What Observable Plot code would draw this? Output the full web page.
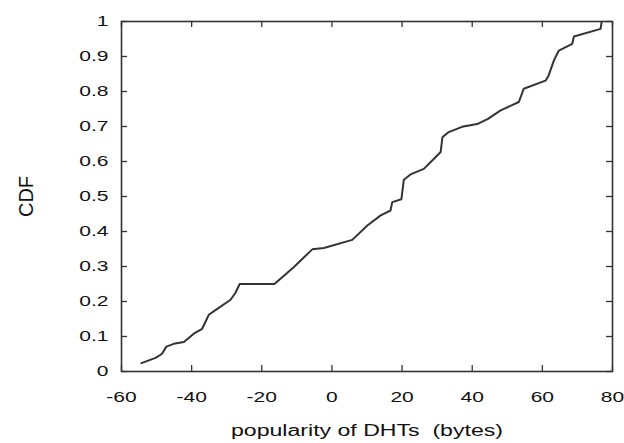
<!DOCTYPE html>
<html>
<head>
<meta charset="utf-8">
<script src="https://cdn.jsdelivr.net/npm/d3@7"></script>
<script src="https://cdn.jsdelivr.net/npm/@observablehq/plot@0.6"></script>
<style>
  html, body { margin: 0; padding: 0; background: #fff; }
  #chart { width: 624px; height: 443px; overflow: hidden; }
</style>
</head>
<body>
<div id="chart"></div>
<script>
const cdfX = [-54.3, -50.3, -48.5, -47.2, -45.1, -42.2, -39.4, -37.0, -35.1, -32.7, -28.9, -27.5, -26.3, -16.4, -10.9, -5.6, -2.3, 5.8, 10.1, 13.9, 16.7, 17.2, 19.8, 20.5, 22.4, 26.2, 29.1, 31.0, 31.5, 33.3, 37.1, 41.4, 44.5, 48.1, 53.3, 54.7, 60.9, 61.8, 63.3, 64.7, 68.5, 69.0, 76.6, 76.9];
const cdfY = [0.024, 0.039, 0.05, 0.071, 0.079, 0.084, 0.108, 0.122, 0.162, 0.179, 0.205, 0.225, 0.25, 0.25, 0.298, 0.349, 0.353, 0.376, 0.417, 0.446, 0.46, 0.484, 0.492, 0.548, 0.563, 0.579, 0.608, 0.627, 0.669, 0.684, 0.699, 0.707, 0.722, 0.746, 0.77, 0.808, 0.831, 0.846, 0.889, 0.917, 0.936, 0.957, 0.979, 0.998];
const xTicks = [-60, -40, -20, 0, 20, 40, 60, 80];
const yTicks = [0, 0.1, 0.2, 0.3, 0.4, 0.5, 0.6, 0.7, 0.8, 0.9, 1];
const xLabel = "popularity of DHTs\u00a0\u00a0(bytes)";
const yLabel = "CDF";

const data = cdfX.map((x, i) => ({x, y: cdfY[i]}));
const fmtY = d => String(+d.toFixed(1));
const fmtX = d => String(d);

const chart = Plot.plot({
  width: 624,
  height: 443,
  marginLeft: 121,
  marginRight: 12,
  marginTop: 21,
  marginBottom: 72,
  style: {fontFamily: "'Liberation Sans', Arial, sans-serif", fontSize: "15px", color: "#111", background: "#fff"},
  x: {domain: [-60, 80]},
  y: {domain: [0, 1]},
  marks: [
    Plot.axisX({ticks: xTicks, tickSize: 0, tickPadding: 20, label: null, tickFormat: fmtX, fontSize: 15, fill: "#111"}),
    Plot.axisY({ticks: yTicks, tickSize: 0, tickPadding: 13, label: null, tickFormat: fmtY, fontSize: 15, fill: "#111"}),
    Plot.ruleX(xTicks, {x: d => d, y1: 0, y2: 6 / 350, stroke: "#333", strokeWidth: 1.3}),
    Plot.ruleX(xTicks, {x: d => d, y1: 1, y2: 1 - 6 / 350, stroke: "#333", strokeWidth: 1.3}),
    Plot.ruleY(yTicks, {y: d => d, x1: -60, x2: -60 + 6 / 3.507, stroke: "#333", strokeWidth: 1.3}),
    Plot.ruleY(yTicks, {y: d => d, x1: 80, x2: 80 - 6 / 3.507, stroke: "#333", strokeWidth: 1.3}),
    Plot.frame({stroke: "#333", strokeWidth: 1.6}),
    Plot.line(data, {x: "x", y: "y", stroke: "#333", strokeWidth: 2}),
    Plot.text([xLabel], {text: d => d, frameAnchor: "bottom", dy: 64, fontSize: 16, fill: "#111"}),
    Plot.text([yLabel], {text: d => d, frameAnchor: "left", textAnchor: "middle", dx: -95, rotate: -90, fontSize: 20, fill: "#111"})
  ]
});
document.getElementById("chart").appendChild(chart);

// horizontally stretch text glyphs like the reference
d3.select(chart).selectAll("text").each(function() {
  const t = this.textContent;
  if (t === yLabel) return;
  const len = this.getComputedTextLength();
  if (!(len > 0)) return;
  const target = t === xLabel ? 272 : len * 1.4;
  this.setAttribute("textLength", target);
  this.setAttribute("lengthAdjust", "spacingAndGlyphs");
});
</script>
</body>
</html>
